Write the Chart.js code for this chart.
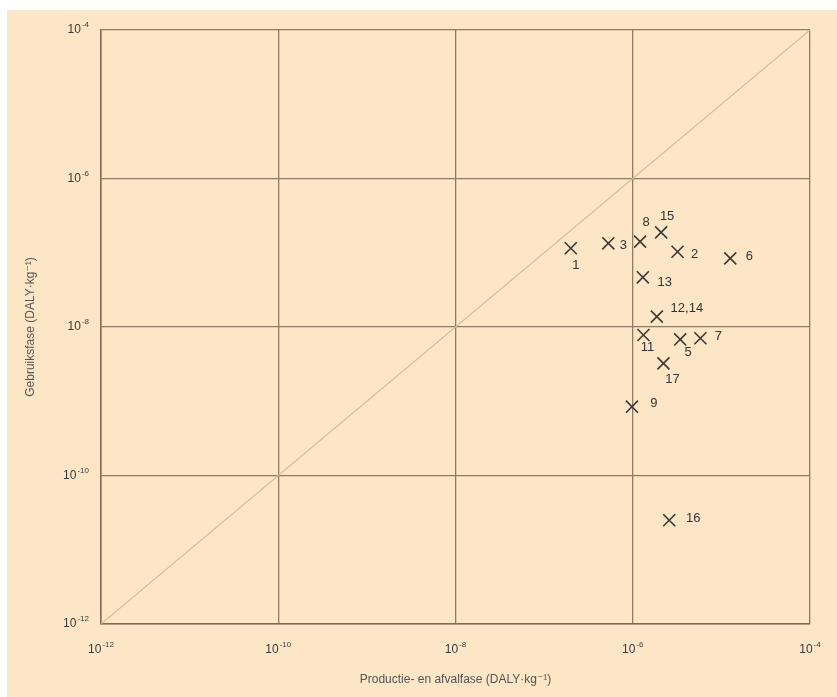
<!DOCTYPE html>
<html>
<head>
<meta charset="utf-8">
<script src="https://cdn.jsdelivr.net/npm/chart.js@4/dist/chart.umd.min.js"></script>
<style>
  html, body { margin: 0; padding: 0; background: #ffffff; }
  #wrap {
    position: absolute;
    left: 7px;
    top: 10px;
    width: 830px;
    height: 687px;
    background: #fce6c6;
  }
</style>
</head>
<body>
<div id="wrap"><canvas id="daly-chart"></canvas></div>
<script>
// Scatter of DALY per kg: production/waste phase (x) vs use phase (y)

const pointLabels = ['1', '2', '3', '5', '6', '7', '8', '9', '11', '12,14', '13', '15', '16', '17'];
const productieAfval = [2.0e-7, 3.2e-6, 5.3e-7, 3.43e-6, 1.26e-5, 5.8e-6, 1.21e-6, 9.8e-7, 1.32e-6, 1.87e-6, 1.3e-6, 2.09e-6, 2.58e-6, 2.22e-6];
const gebruik = [1.15e-7, 1.03e-7, 1.34e-7, 6.8e-9, 8.4e-8, 7.05e-9, 1.41e-7, 8.45e-10, 7.8e-9, 1.38e-8, 4.67e-8, 1.88e-7, 2.5e-11, 3.24e-9];

// 1:1 reference line
const diagonal = [1e-12, 1e-4];

const tickValues = [1e-12, 1e-10, 1e-8, 1e-6, 1e-4];
const tickExponents = ['-12', '-10', '-8', '-6', '-4'];

// where each number sits relative to its cross (px)
const labelOffsets = [
    [5, 17], [17, 3], [15, 2], [8, 13], [19, -2], [18, -2], [6, -19],
    [22, -3], [4, 12], [30, -8], [22, 5], [6, -16], [24, -2], [9, 16]
];

const FONT = "'Liberation Sans', Arial, 'DejaVu Sans', sans-serif";

// draw "10" with a raised exponent
function drawPower(ctx, exp, x, y, align) {
    ctx.font = '12px ' + FONT;
    const baseW = ctx.measureText('10').width;
    ctx.font = '8px ' + FONT;
    const expW = ctx.measureText(exp).width;
    const total = baseW + 1 + expW;
    let left = x;
    if (align === 'center') left = x - total / 2;
    if (align === 'right') left = x - total;
    ctx.textAlign = 'left';
    ctx.textBaseline = 'middle';
    ctx.font = '12px ' + FONT;
    ctx.fillText('10', left, y);
    ctx.font = '8px ' + FONT;
    ctx.fillText(exp, left + baseW + 1, y - 5);
}

const powerTicks = {
    id: 'powerTicks',
    afterDraw(chart) {
        const ctx = chart.ctx;
        const xs = chart.scales.x;
        const ys = chart.scales.y;
        ctx.save();
        ctx.fillStyle = '#3a3a3a';
        tickValues.forEach((v, i) => {
            drawPower(ctx, tickExponents[i], xs.getPixelForValue(v), xs.top + 26, 'center');
            drawPower(ctx, tickExponents[i], ys.left + 82, ys.getPixelForValue(v), 'right');
        });
        ctx.restore();
    }
};

const numberLabels = {
    id: 'numberLabels',
    afterDatasetsDraw(chart) {
        const meta = chart.getDatasetMeta(1);
        const ctx = chart.ctx;
        ctx.save();
        ctx.font = '13px ' + FONT;
        ctx.fillStyle = '#333333';
        ctx.textAlign = 'center';
        ctx.textBaseline = 'middle';
        meta.data.forEach((pt, i) => {
            ctx.fillText(pointLabels[i], pt.x + labelOffsets[i][0], pt.y + labelOffsets[i][1]);
        });
        ctx.restore();
    }
};

function initChart() {
    const ctx = document.getElementById('daly-chart').getContext('2d');

    new Chart(ctx, {
        type: 'scatter',
        data: {
            datasets: [
                {
                    label: '1:1',
                    type: 'line',
                    data: diagonal.map(v => ({ x: v, y: v })),
                    borderColor: '#d9bb93',
                    borderWidth: 1.2,
                    pointRadius: 0,
                    fill: false
                },
                {
                    label: 'stoffen',
                    data: productieAfval.map((x, i) => ({ x: x, y: gebruik[i] })),
                    pointStyle: 'crossRot',
                    pointRadius: 8.5,
                    borderColor: '#3c3833',
                    borderWidth: 1.6
                }
            ]
        },
        options: {
            responsive: true,
            maintainAspectRatio: false,
            animation: false,
            layout: { padding: { left: 0, top: 20, right: 27, bottom: 0 } },
            plugins: {
                legend: { display: false },
                tooltip: { enabled: false }
            },
            scales: {
                x: {
                    type: 'logarithmic',
                    min: 1e-12,
                    max: 1e-4,
                    afterBuildTicks: s => { s.ticks = tickValues.map(v => ({ value: v })); },
                    afterFit: s => { s.height = 73; },
                    grid: { color: '#8d7c63', lineWidth: 1.3, drawTicks: false },
                    border: { color: '#7d6d56', width: 1.5 },
                    ticks: { display: false },
                    title: {
                        display: true,
                        text: 'Productie- en afvalfase (DALY·kg⁻¹)',
                        color: '#555555',
                        font: { family: FONT, size: 12 },
                        padding: { top: 4, bottom: 10 }
                    }
                },
                y: {
                    type: 'logarithmic',
                    min: 1e-12,
                    max: 1e-4,
                    afterBuildTicks: s => { s.ticks = tickValues.map(v => ({ value: v })); },
                    afterFit: s => { s.width = 94; },
                    grid: { color: '#8d7c63', lineWidth: 1.3, drawTicks: false },
                    border: { color: '#7d6d56', width: 1.5 },
                    ticks: { display: false },
                    title: {
                        display: true,
                        text: 'Gebruiksfase (DALY·kg⁻¹)',
                        color: '#555555',
                        font: { family: FONT, size: 12 },
                        padding: { top: 16, bottom: 0 }
                    }
                }
            }
        },
        plugins: [numberLabels, powerTicks]
    });
}

document.addEventListener('DOMContentLoaded', initChart);
</script>
</body>
</html>
